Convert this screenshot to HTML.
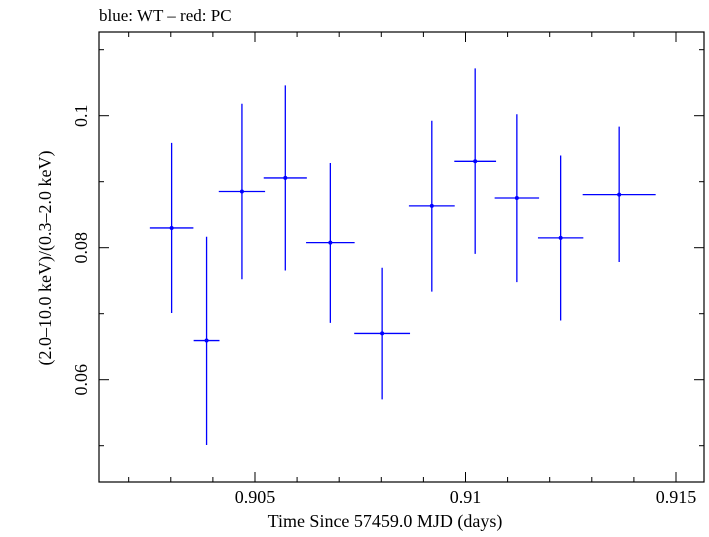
<!DOCTYPE html>
<html><head><meta charset="utf-8"><style>
html,body{margin:0;padding:0;background:#fff}
svg text{font-family:"Liberation Serif",serif;fill:#000}
</style></head><body>
<svg id="chart" width="709" height="532" xmlns="http://www.w3.org/2000/svg">
<text x="99" y="21" font-size="17">blue: WT – red: PC</text>
<rect x="99" y="32" width="605" height="450" fill="none" stroke="#000" stroke-width="1.2"/>
<g id="axes"></g>
<g id="series"></g>
<text x="385" y="527" font-size="18" text-anchor="middle">Time Since 57459.0 MJD (days)</text>
<text transform="translate(51,258) rotate(-90)" font-size="18" text-anchor="middle">(2.0–10.0 keV)/(0.3–2.0 keV)</text>
</svg>
<script>
const times=[0.90302,0.90385,0.90469,0.90572,0.90679,0.90802,0.9092,0.91023,0.91122,0.91226,0.91365];
const timeErr=[0.000517,0.000307,0.00055,0.000512,0.000577,0.000663,0.000544,0.000496,0.000528,0.000539,0.000867];
const ratios=[0.08299,0.06593,0.08851,0.09057,0.08077,0.06701,0.08634,0.09309,0.08753,0.08149,0.08804];
const ratioHi=[0.09588,0.08165,0.10181,0.10459,0.09284,0.07696,0.09923,0.10717,0.10021,0.09397,0.09835];
const ratioLo=[0.0701,0.0501,0.07521,0.07655,0.06861,0.05701,0.07335,0.07907,0.07479,0.06897,0.07783];
const xTicks=[0.905,0.91,0.915];
const xTickLabels=["0.905","0.91","0.915"];
const yTicks=[0.06,0.08,0.1];
const yTickLabels=["0.06","0.08","0.1"];

const X0=99,X1=704,Y0=482,Y1=32;
const xMin=0.901295,xMax=0.915665,yMin=0.0445,yMax=0.11268;
const xs=v=>X0+(v-xMin)/(xMax-xMin)*(X1-X0);
const ys=v=>Y0-(v-yMin)/(yMax-yMin)*(Y0-Y1);
const NS="http://www.w3.org/2000/svg";
const axes=document.getElementById('axes'),series=document.getElementById('series');
function mk(tag,attrs,parent){const e=document.createElementNS(NS,tag);for(const k in attrs)e.setAttribute(k,attrs[k]);parent.appendChild(e);return e;}

// x ticks (minor every 0.001)
for(let i=902;i<=915;i++){
  const v=i/1000,x=xs(v),major=(i%5===0),len=major?10:5;
  const t1=mk('line',{x1:x,x2:x,y1:Y0,y2:Y0-len,stroke:'#000','stroke-width':1},axes);
  
  
  const t2=mk('line',{x1:x,x2:x,y1:Y1,y2:Y1+len,stroke:'#000','stroke-width':1},axes);
  
  
}
xTicks.forEach((v,i)=>{
  const t=mk('text',{x:xs(v),y:503,'font-size':18,'text-anchor':'middle'},axes);
  t.textContent=xTickLabels[i];
  
  
});
// y ticks (minor every 0.01)
for(let i=5;i<=11;i++){
  const v=i/100,y=ys(v),major=(i%2===0),len=major?10:5;
  const t1=mk('line',{x1:X0,x2:X0+len,y1:y,y2:y,stroke:'#000','stroke-width':1},axes);
  
  
  const t2=mk('line',{x1:X1,x2:X1-len,y1:y,y2:y,stroke:'#000','stroke-width':1},axes);
  
  
}
yTicks.forEach((v,i)=>{
  const y=ys(v);
  const t=mk('text',{transform:`translate(87,${y}) rotate(-90)`,'font-size':18,'text-anchor':'middle'},axes);
  t.textContent=yTickLabels[i];
  
  
});
// data
times.forEach((t,i)=>{
  const g=mk('g',{},series);
  
  
  const cx=xs(t),cy=ys(ratios[i]);
  mk('line',{x1:xs(t-timeErr[i]),x2:xs(t+timeErr[i]),y1:cy,y2:cy,stroke:'#0000ff','stroke-width':1.3},g);
  mk('line',{x1:cx,x2:cx,y1:ys(ratioHi[i]),y2:ys(ratioLo[i]),stroke:'#0000ff','stroke-width':1.3},g);
  mk('circle',{cx:cx,cy:cy,r:2,fill:'#0000ff'},g);
});
</script>
</body></html>
